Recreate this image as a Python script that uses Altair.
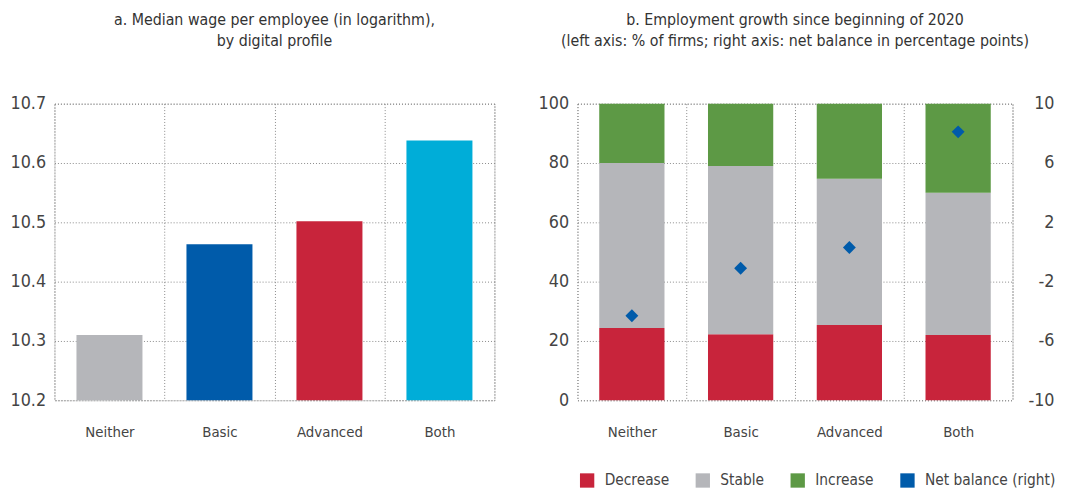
import altair as alt
import pandas as pd

FONT = "DejaVu Sans Condensed, sans-serif"

categories = ["Neither", "Basic", "Advanced", "Both"]
median_wage = [10.31, 10.463, 10.502, 10.638]
wage_colors = ["#B5B6BA", "#005BAA", "#C8243B", "#00ADD8"]

decrease = [24.4, 22.3, 25.4, 22.0]
stable = [55.6, 56.7, 49.3, 48.0]
increase = [20.0, 21.0, 25.3, 30.0]
net_balance = [-4.3, -1.1, 0.3, 8.1]

series_names = ["Decrease", "Stable", "Increase", "Net balance (right)"]
series_colors = ["#C8243B", "#B5B6BA", "#5D9945", "#005BAA"]

left_ticks = [10.2, 10.3, 10.4, 10.5, 10.6, 10.7]
right_left_ticks = [0, 20, 40, 60, 80, 100]
right_right_ticks = [-10, -6, -2, 2, 6, 10]

df_wage = pd.DataFrame({"cat": categories, "value": median_wage})

rows = []
for i, c in enumerate(categories):
    rows.append({"cat": c, "series": "Decrease", "value": decrease[i], "ord": 0})
    rows.append({"cat": c, "series": "Stable", "value": stable[i], "ord": 1})
    rows.append({"cat": c, "series": "Increase", "value": increase[i], "ord": 2})
df_emp = pd.DataFrame(rows)
df_net = pd.DataFrame({"cat": categories, "value": net_balance,
                       "series": ["Net balance (right)"] * 4})

GRID = "#8a8a8a"
TXT = "#444"

x_common = dict(
    sort=categories,
    scale=alt.Scale(paddingInner=0, paddingOuter=0),
)
x_axis = alt.Axis(title=None, tickBand="extent", grid=True, ticks=False, domain=False,
                  labelAngle=0, labelPadding=25, labelFontSize=15, labelColor=TXT,
                  gridColor=GRID, gridDash=[1, 2], gridWidth=1)

left = alt.Chart(df_wage).mark_bar(width=alt.RelativeBandSize(0.6)).encode(
    x=alt.X("cat:N", axis=x_axis, **x_common),
    y=alt.Y("value:Q", scale=alt.Scale(domain=[10.2, 10.7], zero=False, nice=False),
            axis=alt.Axis(title=None, values=left_ticks, format=".1f", ticks=False, domain=False,
                          labelFontSize=18, labelColor=TXT, labelPadding=9,
                          minExtent=46, maxExtent=46,
                          gridColor=GRID, gridDash=[1, 2], gridWidth=1)),
    y2=alt.datum(10.2),
    color=alt.Color("cat:N", scale=alt.Scale(domain=categories, range=wage_colors), legend=None),
).properties(
    width=445, height=300,
    title=alt.TitleParams(["a. Median wage per employee (in logarithm),", "by digital profile"],
                          fontSize=16, font=FONT, fontWeight="normal", color="#333",
                          lineHeight=22, offset=46, anchor="middle"),
)

color_enc = alt.Color("series:N", scale=alt.Scale(domain=series_names, range=series_colors),
                      legend=alt.Legend(title=None, orient="none", direction="horizontal",
                                        legendX=2, legendY=373, symbolType="square",
                                        symbolSize=210, symbolStrokeWidth=0, symbolOpacity=1,
                                        labelFontSize=15.5, labelColor=TXT, labelFont=FONT,
                                        labelOffset=10, columnPadding=26, padding=0))

bars = alt.Chart(df_emp).mark_bar(width=alt.RelativeBandSize(0.6)).encode(
    x=alt.X("cat:N", axis=x_axis, **x_common),
    y=alt.Y("value:Q", stack="zero", scale=alt.Scale(domain=[0, 100], nice=False),
            axis=alt.Axis(title=None, values=right_left_ticks, ticks=False, domain=False,
                          labelFontSize=18, labelColor=TXT, labelPadding=9,
                          minExtent=40, maxExtent=40,
                          gridColor=GRID, gridDash=[1, 2], gridWidth=1)),
    color=color_enc,
    order=alt.Order("ord:Q", sort="ascending"),
)

points = alt.Chart(df_net).mark_point(shape="diamond", filled=True, size=170, opacity=1).encode(
    x=alt.X("cat:N", **x_common),
    y=alt.Y("value:Q", scale=alt.Scale(domain=[-10, 10], nice=False, zero=False),
            axis=alt.Axis(title=None, orient="right", values=right_right_ticks, ticks=False,
                          domain=False, grid=False, labelFontSize=18, labelColor=TXT,
                          labelAlign="right", labelPadding=42, minExtent=42, maxExtent=42,
                          labelExpr="datum.value + ''")),
    color=color_enc,
)

right = alt.layer(bars, points).resolve_scale(y="independent").properties(
    width=440, height=300,
    title=alt.TitleParams(["b. Employment growth since beginning of 2020",
                           "(left axis: % of firms; right axis: net balance in percentage points)"],
                          fontSize=16, font=FONT, fontWeight="normal", color="#333",
                          lineHeight=22, offset=46, anchor="middle"),
)

chart = alt.hconcat(left, right, spacing=42).resolve_scale(color="independent").resolve_legend(
    color="independent"
).properties(
    padding={"left": 0, "top": 0, "right": 0, "bottom": 0}
).configure(
    font=FONT,
).configure_view(
    stroke=GRID, strokeDash=[1, 2], strokeWidth=1,
).configure_axis(
    labelFont=FONT,
)

chart.save("out.html", embed_options={"renderer": "svg", "actions": False})
